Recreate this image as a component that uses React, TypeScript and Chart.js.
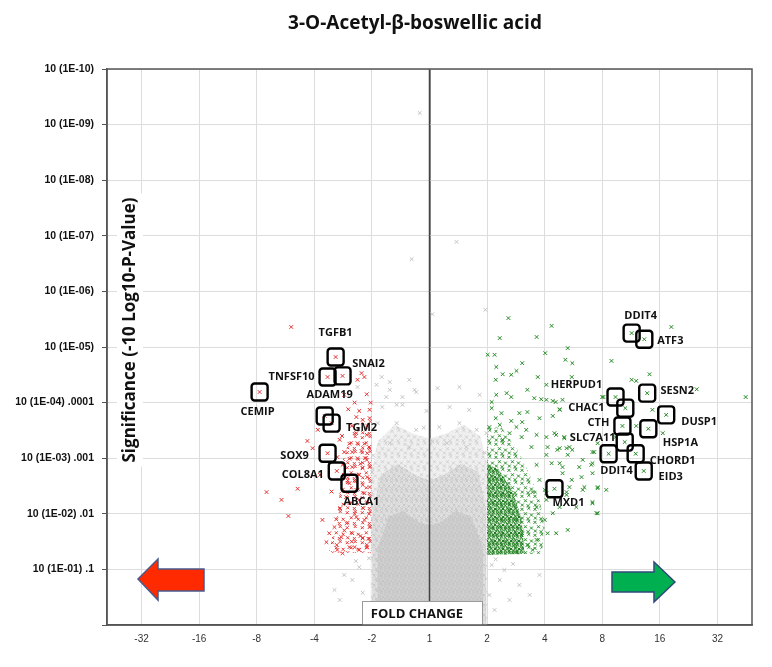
import React, { useEffect, useRef } from 'react';
import { Chart, registerables } from 'chart.js';
Chart.register(...registerables);

// x values are signed log2 fold changes (1 = no change at 0, ±2 at ±1 ...)
const xTickValues = [-5, -4, -3, -2, -1, 0, 1, 2, 3, 4, 5];
const xTickLabels = ['-32', '-16', '-8', '-4', '-2', '1', '2', '4', '8', '16', '32'];
// y values are -log10(p)
const yTickLabels = ['', '10 (1E-01) .1', '10 (1E-02) .01', '10 (1E-03) .001', '10 (1E-04) .0001', '10 (1E-05)', '10 (1E-06)', '10 (1E-07)', '10 (1E-08)', '10 (1E-09)', '10 (1E-10)'];

const downGenes = ['CEMIP', 'TGFB1', 'SNAI2', 'TNFSF10', 'ADAM19', 'TGM2', 'SOX9', 'COL8A1', 'ABCA1'];
const downLog2FC = [-2.95, -1.63, -1.51, -1.77, -1.82, -1.70, -1.77, -1.61, -1.39];
const downNegLogP = [4.19, 4.82, 4.48, 4.46, 3.76, 3.63, 3.09, 2.77, 2.55];

const upGenes = ['DDIT4', 'ATF3', 'HERPUD1', 'SESN2', 'CHAC1', 'DUSP1', 'CTH', 'HSP1A', 'SLC7A11', 'DDIT4', 'CHORD1', 'EID3', 'MXD1'];
const upLog2FC = [3.51, 3.73, 3.23, 3.78, 3.40, 4.11, 3.35, 3.80, 3.39, 3.11, 3.58, 3.72, 2.17];
const upNegLogP = [5.25, 5.14, 4.10, 4.17, 3.90, 3.78, 3.58, 3.53, 3.29, 3.08, 3.08, 2.77, 2.45];

// label placement (pixel offsets from the boxed point)
const downLabelDx = [-2, 0, 26, -36, 5, 30, -33, -34, 12];
const downLabelDy = [20, -24, -12, 0, -21, 5, 3, 4, 19];
const upLabelDx = [9, 26, -39, 30, -39, 33, -24, 32, -32, 8, 37, 27, 14];
const upLabelDy = [-17, 2, -12, -2, 0, 7, -3, 14, -4, 17, 7, 6, 14];

const downRegulated: [number, number][] = [
  [-2.40, 5.36], [-1.13, 4.46], [-1.09, 4.15], [-1.41, 3.88], [-1.22, 3.85], [-1.04, 3.87], [-1.27, 3.74], [-1.16, 3.69],
  [-1.04, 3.72], [-1.08, 3.58], [-1.35, 3.58], [-1.27, 3.45], [-1.09, 3.42], [-2.12, 3.31], [-1.56, 3.33], [-1.39, 3.26],
  [-1.25, 3.27], [-1.13, 3.26], [-1.48, 3.11], [-1.34, 3.11], [-1.18, 3.13], [-1.08, 3.09], [-2.03, 3.18], [-1.60, 3.02],
  [-1.39, 2.99], [-1.25, 3.00], [-1.09, 2.97], [-1.51, 2.88], [-1.34, 2.84], [-1.16, 2.82], [-1.04, 2.84], [-1.22, 2.70],
  [-1.08, 2.66], [-2.29, 2.45], [-2.83, 2.39], [-2.57, 2.25], [-2.45, 1.96], [-1.16, 2.52], [-1.04, 2.48], [-1.27, 2.43],
  [-1.13, 2.37], [-1.22, 2.25], [-1.08, 2.21], [-1.39, 2.19], [-1.86, 1.89], [-1.65, 1.76], [-1.44, 1.83], [-1.27, 1.94],
  [-1.13, 1.89], [-1.04, 1.76], [-1.74, 1.65], [-1.53, 1.58], [-1.34, 1.65], [-1.16, 1.56], [-1.60, 1.35], [-1.39, 1.40],
  [-1.22, 1.35], [-1.08, 1.40], [-1.51, 1.29], [-1.79, 1.49], [-1.61, 1.44], [-1.30, 1.40], [-1.09, 1.44], [-1.94, 3.51],
  [-1.48, 4.14], [-1.25, 4.41], [-1.18, 4.53], [-1.05, 3.20], [-1.12, 3.00], [-1.20, 2.90], [-1.30, 2.60], [-1.42, 2.60],
  [-1.15, 2.10], [-1.30, 2.00], [-1.05, 2.00], [-1.45, 2.30], [-1.55, 2.10], [-1.20, 1.60], [-1.06, 1.55], [-1.48, 1.70],
  [-1.35, 1.50], [-1.62, 1.90], [-1.70, 2.40], [-1.90, 2.70], [-1.52, 3.40], [-1.02, 4.00], [-1.30, 4.00],
];

const upRegulated: [number, number][] = [
  [1.37, 5.52], [2.12, 5.38], [1.22, 5.16], [1.86, 5.18], [1.01, 4.86], [1.13, 4.86], [2.01, 4.89], [2.40, 4.98],
  [2.36, 4.77], [2.48, 4.71], [3.16, 4.75], [1.61, 4.71], [1.16, 4.64], [1.51, 4.57], [1.27, 4.51], [1.42, 4.50],
  [1.88, 4.46], [1.15, 4.41], [2.47, 4.46], [2.03, 4.32], [1.70, 4.23], [1.16, 4.14], [1.34, 4.17], [1.42, 4.10],
  [1.82, 4.08], [1.94, 4.06], [1.08, 4.01], [2.03, 4.05], [2.19, 4.01], [2.31, 4.05], [3.00, 4.10], [2.26, 3.88],
  [1.08, 3.90], [1.25, 3.81], [1.56, 3.81], [1.70, 3.83], [2.14, 3.76], [1.15, 3.72], [1.42, 3.67], [1.61, 3.65],
  [1.91, 3.72], [1.04, 3.56], [1.22, 3.60], [1.51, 3.56], [1.68, 3.51], [1.39, 3.45], [1.27, 3.33], [1.60, 3.38],
  [1.86, 3.42], [2.20, 3.42], [2.34, 3.38], [2.05, 3.20], [2.43, 3.20], [2.22, 3.15], [1.77, 3.20], [2.86, 3.11],
  [2.40, 3.06], [2.03, 3.06], [2.26, 2.91], [2.12, 2.91], [1.86, 2.88], [2.81, 2.88], [1.91, 2.61], [2.66, 2.43],
  [2.43, 2.48], [2.92, 2.46], [3.07, 2.43], [2.00, 2.43], [1.79, 2.39], [2.38, 2.34], [2.83, 2.21], [2.55, 2.12],
  [2.26, 2.12], [2.03, 2.25], [1.86, 2.12], [2.92, 2.01], [2.14, 2.01], [2.00, 1.89], [2.40, 1.71], [2.20, 1.65],
  [2.05, 1.65], [1.86, 1.53], [1.61, 1.65], [1.70, 1.44], [1.51, 1.31], [1.79, 1.35], [4.20, 5.36], [4.64, 4.24],
  [5.49, 4.10], [3.82, 4.51], [3.59, 4.39], [3.51, 4.41], [3.02, 4.10], [3.87, 3.87], [3.59, 3.58], [4.05, 3.45],
  [3.23, 3.38], [2.14, 4.03], [2.26, 3.87], [2.03, 3.38], [2.17, 3.45], [2.34, 3.36], [2.26, 3.18], [2.38, 3.18],
  [2.48, 3.15], [2.83, 3.11], [2.92, 3.27], [2.66, 2.97], [2.83, 2.91], [2.31, 2.84], [2.60, 2.84], [2.83, 2.73],
  [2.64, 2.66], [2.47, 2.61], [2.31, 2.73], [2.92, 2.48], [2.69, 2.48], [2.38, 2.39], [2.03, 2.37], [2.83, 2.19],
  [2.90, 2.01],
];

const notSignificant: [number, number][] = [
  [-0.17, 9.21], [0.47, 6.89], [-0.31, 6.58], [0.05, 5.59], [0.97, 5.67], [-1.25, 4.28], [-0.92, 4.32], [-0.69, 4.23],
  [-0.23, 4.19], [0.14, 4.26], [0.52, 4.28], [0.87, 4.14], [-0.82, 3.92], [-0.47, 3.96], [0.35, 3.92], [0.69, 3.87],
  [-0.90, 3.63], [-0.57, 3.63], [-0.23, 3.51], [0.17, 3.56], [0.52, 3.63], [0.82, 3.51], [-0.69, 3.27], [-0.35, 3.20],
  [0.30, 3.27], [0.64, 3.20], [-0.83, 4.46], [-0.69, 4.37], [-0.35, 4.41], [-0.26, 4.23], [-0.47, 4.10], [-0.75, 4.10],
  [-0.57, 3.96], [-0.05, 3.85], [-1.22, 1.04], [-1.34, 0.81], [-1.16, 0.58], [-1.48, 0.90], [-1.56, 0.45], [-1.13, 0.27],
  [-1.65, 0.63], [1.08, 1.08], [1.22, 0.81], [1.39, 0.45], [1.13, 0.27], [1.56, 0.72], [1.30, 0.99], [1.74, 0.54],
  [1.04, 0.54], [1.91, 0.90], [-1.05, 1.20], [-1.28, 1.15], [1.15, 1.18], [1.45, 1.10], [-0.98, 3.05], [-1.0, 2.75],
  [0.96, 3.1], [0.99, 3.45], [-0.1, 3.55], [0.05, 3.3],
];

// outlines of the dense, unlabelled point clouds (log2FC, -log10 p)
const grayOuterX = [-1.02, -1.02, -0.9, -0.6, -0.3, 0, 0.3, 0.6, 0.88, 1.0, 1.0];
const grayOuterY = [0, 2.7, 3.3, 3.6, 3.45, 3.35, 3.45, 3.6, 3.4, 2.9, 0];
const grayMidX = [-0.99, -0.99, -0.85, -0.55, -0.25, 0, 0.25, 0.55, 0.85, 0.98, 0.98];
const grayMidY = [0, 2.0, 2.7, 2.9, 2.7, 2.6, 2.7, 2.9, 2.75, 2.1, 0];
const grayCoreX = [-0.9, -0.9, -0.7, -0.45, -0.2, 0, 0.2, 0.45, 0.72, 0.93, 0.93];
const grayCoreY = [0, 1.4, 1.95, 2.05, 1.85, 1.8, 1.85, 2.05, 1.95, 1.4, 0];
const greenOuterX = [1.0, 1.25, 1.5, 1.7, 1.9, 2.0, 1.95, 1.0];
const greenOuterY = [3.55, 3.55, 3.2, 2.8, 2.3, 1.8, 1.28, 1.26];
const greenCoreX = [1.0, 1.2, 1.45, 1.6, 1.65, 1.0];
const greenCoreY = [2.9, 2.8, 2.4, 1.9, 1.28, 1.26];
const redCloudX = [-1.0, -1.3, -1.5, -1.6, -1.75, -1.0];
const redCloudY = [3.7, 3.6, 3.0, 2.0, 1.3, 1.3];

// stipple texture used to render the dense clouds
const stipple = [[0.15, 0.18], [0.68, 0.1], [0.42, 0.52], [0.88, 0.62], [0.18, 0.85], [0.62, 0.9]];

function makeTexture(color: string, bg: string | null, tile: number, arm: number) {
  const c = document.createElement('canvas');
  c.width = tile;
  c.height = tile;
  const g = c.getContext('2d')!;
  if (bg) {
    g.fillStyle = bg;
    g.fillRect(0, 0, tile, tile);
  }
  g.strokeStyle = color;
  g.lineWidth = 1;
  stipple.forEach(([fx, fy]) => {
    for (const ox of [-tile, 0, tile]) {
      for (const oy of [-tile, 0, tile]) {
        const cx = fx * tile + ox, cy = fy * tile + oy;
        g.beginPath();
        g.moveTo(cx - arm, cy - arm);
        g.lineTo(cx + arm, cy + arm);
        g.moveTo(cx + arm, cy - arm);
        g.lineTo(cx - arm, cy + arm);
        g.stroke();
      }
    }
  });
  return g.createPattern(c, 'repeat')!;
}

export default function App() {
  const ref = useRef<HTMLCanvasElement>(null);
  useEffect(() => {
    document.body.style.margin = '0';
    const canvas = ref.current!;
    const polys: { xs: number[]; ys: number[]; fill: any }[] = [
      { xs: grayOuterX, ys: grayOuterY, fill: makeTexture('#cfcfcf', '#efefef', 13, 1.5) },
      { xs: grayMidX, ys: grayMidY, fill: makeTexture('#c6c6c6', '#e0e0e0', 10, 1.5) },
      { xs: grayCoreX, ys: grayCoreY, fill: makeTexture('#c4c4c4', '#d2d2d2', 8, 1.5) },
      { xs: redCloudX, ys: redCloudY, fill: makeTexture('#e53a3a', null, 15, 1.5) },
      { xs: greenOuterX, ys: greenOuterY, fill: makeTexture('#2a8c2a', null, 13, 1.5) },
      { xs: greenCoreX, ys: greenCoreY, fill: makeTexture('#1d7a1d', 'rgba(120,180,120,0.22)', 8, 1.5) },
    ];

    const overlay = {
      id: 'overlay',
      beforeDatasetsDraw(chart: any) {
        const { ctx, chartArea: a, scales } = chart;
        const x = scales.x, y = scales.y;
        ctx.save();
        ctx.beginPath();
        ctx.rect(a.left, a.top, a.right - a.left, a.bottom - a.top);
        ctx.clip();
        polys.forEach((p) => {
          ctx.beginPath();
          p.xs.forEach((v, i) => {
            const px = x.getPixelForValue(v);
            const py = y.getPixelForValue(p.ys[i]);
            if (i === 0) ctx.moveTo(px, py);
            else ctx.lineTo(px, py);
          });
          ctx.closePath();
          ctx.fillStyle = p.fill;
          ctx.fill();
        });
        // no-change line stays visible through the cloud
        const x0 = x.getPixelForValue(0);
        ctx.beginPath();
        ctx.moveTo(x0, a.top);
        ctx.lineTo(x0, a.bottom);
        ctx.strokeStyle = '#444';
        ctx.lineWidth = 1.5;
        ctx.stroke();
        ctx.restore();
      },
      afterDatasetsDraw(chart: any) {
        const { ctx, chartArea: a, scales } = chart;
        const x = scales.x, y = scales.y;
        ctx.save();
        const drawSet = (names: string[], xs: number[], ys: number[], dxs: number[], dys: number[]) => {
          names.forEach((n, i) => {
            const px = x.getPixelForValue(xs[i]);
            const py = y.getPixelForValue(ys[i]);
            ctx.beginPath();
            (ctx as any).roundRect(px - 8, py - 8.5, 16, 17, 3);
            ctx.lineWidth = 2.4;
            ctx.strokeStyle = '#000';
            ctx.stroke();
          });
          names.forEach((n, i) => {
            const px = x.getPixelForValue(xs[i]);
            const py = y.getPixelForValue(ys[i]);
            ctx.font = 'bold 11px "Open Sans"';
            ctx.fillStyle = '#111';
            ctx.textAlign = 'center';
            ctx.textBaseline = 'middle';
            ctx.fillText(n, px + dxs[i], py + dys[i]);
          });
        };
        drawSet(downGenes, downLog2FC, downNegLogP, downLabelDx, downLabelDy);
        drawSet(upGenes, upLog2FC, upNegLogP, upLabelDx, upLabelDy);

        // FOLD CHANGE box
        ctx.fillStyle = '#fff';
        ctx.fillRect(362, 601, 120, a.bottom - 601);
        ctx.strokeStyle = '#9a9a9a';
        ctx.lineWidth = 1;
        ctx.strokeRect(362.5, 601.5, 120, a.bottom - 601);
        ctx.font = 'bold 13px "Open Sans"';
        ctx.fillStyle = '#111';
        ctx.textAlign = 'center';
        ctx.textBaseline = 'middle';
        ctx.fillText('FOLD CHANGE', 417, 614);

        // arrows
        ctx.lineWidth = 1.5;
        ctx.beginPath();
        ctx.moveTo(138, 579);
        ctx.lineTo(158, 559);
        ctx.lineTo(158, 569);
        ctx.lineTo(204, 569);
        ctx.lineTo(204, 591);
        ctx.lineTo(158, 591);
        ctx.lineTo(158, 600);
        ctx.closePath();
        ctx.fillStyle = '#ff2a00';
        ctx.fill();
        ctx.strokeStyle = '#4a5a8a';
        ctx.stroke();

        ctx.beginPath();
        ctx.moveTo(675, 582);
        ctx.lineTo(654, 562);
        ctx.lineTo(654, 572);
        ctx.lineTo(612, 572);
        ctx.lineTo(612, 592);
        ctx.lineTo(654, 592);
        ctx.lineTo(654, 602);
        ctx.closePath();
        ctx.fillStyle = '#00b050';
        ctx.fill();
        ctx.strokeStyle = '#2f4a7a';
        ctx.stroke();

        // frame
        ctx.strokeStyle = '#555';
        ctx.lineWidth = 1.5;
        ctx.strokeRect(a.left, a.top, a.right - a.left, a.bottom - a.top);
        ctx.restore();
      },
      afterDraw(chart: any) {
        const { ctx } = chart;
        ctx.save();
        ctx.font = 'bold 19px "Open Sans"';
        ctx.fillStyle = '#111';
        ctx.textAlign = 'center';
        ctx.textBaseline = 'middle';
        ctx.fillText('3-O-Acetyl-\u03b2-boswellic acid', 415, 24);

        ctx.translate(130, 330);
        ctx.rotate(-Math.PI / 2);
        ctx.font = 'bold 17px "Open Sans"';
        const t = 'Significance (-10 Log10-P-Value)';
        const w = ctx.measureText(t).width;
        ctx.fillStyle = '#fff';
        ctx.fillRect(-w / 2 - 4, -13, w + 8, 26);
        ctx.fillStyle = '#111';
        ctx.fillText(t, 0, 0);
        ctx.restore();
      },
    };

    const cross = { pointStyle: 'crossRot', pointRadius: 2.6, borderWidth: 1, pointHoverRadius: 2.6 };
    const chart = new Chart(canvas, {
      type: 'scatter',
      data: {
        datasets: [
          { ...cross, data: notSignificant.map(([a, b]) => ({ x: a, y: b })), borderColor: '#c4c4c4', backgroundColor: '#c4c4c4' } as any,
          { ...cross, data: downRegulated.map(([a, b]) => ({ x: a, y: b })), borderColor: '#e53030', backgroundColor: '#e53030' } as any,
          { ...cross, data: upRegulated.map(([a, b]) => ({ x: a, y: b })), borderColor: '#238b23', backgroundColor: '#238b23' } as any,
          { ...cross, data: downLog2FC.map((v, i) => ({ x: v, y: downNegLogP[i] })), borderColor: '#e53030', backgroundColor: '#e53030' } as any,
          { ...cross, data: upLog2FC.map((v, i) => ({ x: v, y: upNegLogP[i] })), borderColor: '#238b23', backgroundColor: '#238b23' } as any,
        ],
      },
      options: {
        animation: false,
        responsive: false,
        maintainAspectRatio: false,
        layout: { padding: { top: 69, right: 20, left: 0, bottom: 0 } },
        plugins: { legend: { display: false }, tooltip: { enabled: false }, title: { display: false } },
        scales: {
          x: {
            type: 'linear',
            min: -5.6,
            max: 5.6,
            afterBuildTicks: (s: any) => { s.ticks = xTickValues.map((v) => ({ value: v })); },
            afterFit: (s: any) => { s.height = 42; },
            ticks: {
              callback: (v: any) => xTickLabels[xTickValues.indexOf(Number(v))] ?? '',
              font: { family: '"Liberation Sans"', size: 10 },
              color: '#333',
              padding: 8,
              maxRotation: 0,
            },
            grid: {
              color: (c: any) => (c.tick && c.tick.value === 0 ? '#333' : '#dddddd'),
              lineWidth: (c: any) => (c.tick && c.tick.value === 0 ? 1.5 : 1),
              drawTicks: false,
            },
            border: { color: '#555', width: 1.5 },
          },
          y: {
            type: 'linear',
            min: 0,
            max: 10,
            afterFit: (s: any) => { s.width = 107; },
            ticks: {
              stepSize: 1,
              callback: (v: any) => yTickLabels[Number(v)] ?? '',
              font: { family: '"Liberation Sans"', size: 10.5, weight: 'bold' },
              color: '#111',
              padding: 8,
            },
            grid: { color: '#dddddd', tickLength: 5, tickColor: '#555' },
            border: { color: '#555', width: 1.5 },
          },
        },
      },
      plugins: [
        {
          id: 'bg',
          beforeDraw(chart: any) {
            const c = chart.ctx;
            c.save();
            c.fillStyle = '#fff';
            c.fillRect(0, 0, chart.width, chart.height);
            c.restore();
          },
        },
        overlay,
      ],
    } as any);
    return () => chart.destroy();
  }, []);
  return (
    <div style={{ width: 772, height: 667 }}>
      <canvas ref={ref} width={772} height={667} style={{ display: 'block' }} />
    </div>
  );
}
